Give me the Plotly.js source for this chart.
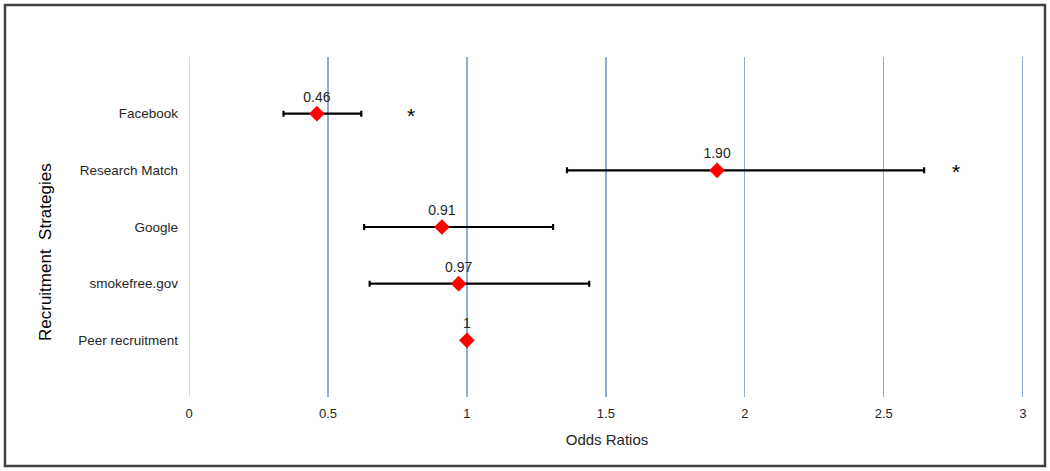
<!DOCTYPE html>
<html>
<head>
<meta charset="utf-8">
<script src="https://cdn.plot.ly/plotly-3.0.1.min.js"></script>
<style>html,body{margin:0;padding:0;background:#fff;}#chart{width:1050px;height:471px;}</style>
</head>
<body>
<div id="chart"></div>
<script>
const categories = ["Facebook", "Research Match", "Google", "smokefree.gov", "Peer recruitment"];
const oddsRatios = [0.46, 1.90, 0.91, 0.97, 1];
const ciLower = [0.34, 1.36, 0.63, 0.65, 1];
const ciUpper = [0.62, 2.645, 1.31, 1.44, 1];
const labels = ["0.46", "1.90", "0.91", "0.97", "1"];
const sigCategories = ["Facebook", "Research Match"];
const sigX = [0.80, 2.76];
const xTicks = [0, 0.5, 1, 1.5, 2, 2.5, 3];

const plus = oddsRatios.map((v, i) => ciUpper[i] - v);
const minus = oddsRatios.map((v, i) => v - ciLower[i]);

const traces = [
  {
    type: "scatter",
    mode: "markers+text",
    x: oddsRatios,
    y: categories,
    text: labels,
    textposition: "top center",
    textfont: {family: "Liberation Sans, Arial, sans-serif", size: 14, color: "#262626"},
    marker: {symbol: "diamond", size: 12, color: "#ff0000"},
    error_x: {type: "data", symmetric: false, array: plus, arrayminus: minus,
              color: "#000000", thickness: 2.2, width: 3},
    cliponaxis: false,
    hoverinfo: "x+y"
  }
];

const starAnnotations = sigX.map((x, i) => ({
  text: "*", x: x, y: sigCategories[i], xref: "x", yref: "y",
  showarrow: false, yshift: -1.5, xanchor: "center", yanchor: "middle",
  font: {family: "Liberation Sans, Arial, sans-serif", size: 21, color: "#000"}
}));

const layout = {
  width: 1050, height: 471,
  margin: {l: 189, r: 25, t: 57, b: 74},
  paper_bgcolor: "#ffffff",
  plot_bgcolor: "#ffffff",
  showlegend: false,
  font: {family: "Liberation Sans, Arial, sans-serif", size: 13, color: "#262626"},
  xaxis: {
    range: [0, 3.008],
    tickvals: xTicks,
    ticktext: xTicks.map(String),
    showgrid: true,
    gridcolor: "#8eaadb",
    gridwidth: 1.3,
    zeroline: true,
    zerolinecolor: "#d9d9d9",
    zerolinewidth: 1,
    showline: false,
    ticks: "",
    ticklen: 0,
    ticklabelstandoff: 7,
    tickfont: {size: 13, color: "#262626"},
    title: {text: "Odds Ratios", font: {size: 15, color: "#262626"}, standoff: 14}
  },
  yaxis: {
    type: "category",
    categoryorder: "array",
    categoryarray: categories,
    range: [5, -1],
    showgrid: false,
    zeroline: false,
    showline: false,
    ticks: "",
    ticklabelstandoff: 10,
    tickfont: {size: 13.5, color: "#262626"}
  },
  annotations: [
    {text: "Recruitment  Strategies", textangle: -90, xref: "paper", yref: "paper",
     x: (45 - 189) / 836, y: (397 - 252) / 340, xanchor: "center", yanchor: "middle",
     showarrow: false, font: {size: 17, color: "#000"}}
  ].concat(starAnnotations),
  shapes: [
    {type: "rect", xref: "paper", yref: "paper",
     x0: (5 - 189) / 836, x1: (1045 - 189) / 836, y0: -0.203, y1: 1.153,
     line: {color: "#404040", width: 2.5}, fillcolor: "rgba(0,0,0,0)", layer: "above"}
  ]
};

Plotly.newPlot("chart", traces, layout, {displayModeBar: false, staticPlot: true});
</script>
</body>
</html>
